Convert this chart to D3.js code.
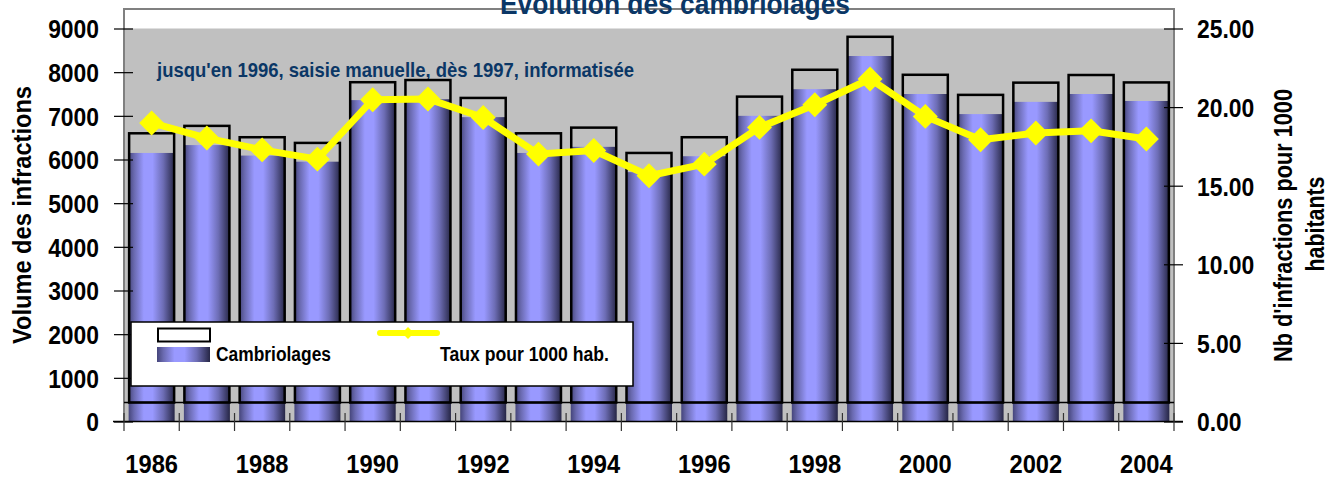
<!DOCTYPE html>
<html>
<head>
<meta charset="utf-8">
<script src="https://cdn.jsdelivr.net/npm/d3@7"></script>
<style>
  html, body { margin: 0; padding: 0; background: #ffffff; }
  svg { display: block; }
  text { font-family: "Liberation Sans", Arial, sans-serif; font-weight: bold; }
</style>
</head>
<body>
<svg id="chart" width="1329" height="478"></svg>
<script>
// ---------- data ----------
const years = [1986, 1987, 1988, 1989, 1990, 1991, 1992, 1993, 1994, 1995,
               1996, 1997, 1998, 1999, 2000, 2001, 2002, 2003, 2004];
const cambriolages = [6150, 6330, 6090, 5950, 7360, 7380, 6970, 6150, 6290, 5710,
                      6075, 7000, 7610, 8370, 7500, 7040, 7320, 7500, 7340];
const cadre = [6600, 6770, 6510, 6380, 7770, 7820, 7410, 6600, 6730, 6150,
               6510, 7440, 8055, 8810, 7940, 7480, 7760, 7935, 7765];
const taux = [18.99, 18.03, 17.28, 16.69, 20.47, 20.52, 19.34, 17.01, 17.24, 15.63,
              16.37, 18.71, 20.15, 21.79, 19.41, 17.92, 18.35, 18.49, 17.97];
const leftTicks = [0, 1000, 2000, 3000, 4000, 5000, 6000, 7000, 8000, 9000];
const rightTicks = [0, 5, 10, 15, 20, 25];
const yearLabels = [1986, 1988, 1990, 1992, 1994, 1996, 1998, 2000, 2002, 2004];
const titleText = "Evolution des cambriolages";
const noteText = "jusqu'en 1996, saisie manuelle, dès 1997, informatisée";
const leftTitle = "Volume des infractions";
const rightTitle = ["Nb d'infractions pour 1000", "habitants"];
const legendBars = "Cambriolages";
const legendLine = "Taux pour 1000 hab.";
const cadreBase = 435;

// ---------- layout ----------
const svg = d3.select("#chart");
const L = 124, R = 1174, T = 28.5, B = 421.5, FRAME_TOP = 9;
const navy = "#0b3766";

const x = d3.scaleBand().domain(years).range([L, R]).paddingInner(0.1676).paddingOuter(0.0838);
const yL = d3.scaleLinear().domain([0, 9000]).range([B, T]);
const yR = d3.scaleLinear().domain([0, 25]).range([B, T]);

// gradient
const defs = svg.append("defs");
const grad = defs.append("linearGradient").attr("id", "barGrad")
  .attr("x1", 0).attr("x2", 1).attr("y1", 0).attr("y2", 0);
[[0, "#45457a"], [0.12, "#6a6ab0"], [0.33, "#9999ff"], [0.52, "#9999ff"], [0.75, "#6d6db5"], [1, "#262645"]]
  .forEach(([o, c]) => grad.append("stop").attr("offset", o).attr("stop-color", c));

// text helper
function label(parent, o) {
  const g = parent.append("g").attr("transform", `translate(${o.x},${o.y}) rotate(${o.rot || 0})`);
  const t = g.append("text").text(o.text)
    .attr("font-size", o.size)
    .attr("text-anchor", o.anchor || "start")
    .attr("fill", o.fill || "#000");
  if (o.len) t.attr("textLength", o.len).attr("lengthAdjust", "spacingAndGlyphs");
  else if (o.sx) t.attr("transform", `scale(${o.sx},1)`);
  return t;
}

// plot background
svg.append("rect").attr("x", L).attr("y", T).attr("width", R - L).attr("height", B - T).attr("fill", "#c0c0c0");
// frame
svg.append("path").attr("d", `M${L},${B} V${FRAME_TOP} H${R} V${B}`)
  .attr("fill", "none").attr("stroke", "#808080").attr("stroke-width", 2);

// note
label(svg, { x: 157, y: 76.5, text: noteText, size: 21, fill: navy, len: 477 });

// purple bars
svg.append("g").selectAll("rect").data(years).join("rect")
  .attr("x", d => x(d)).attr("width", x.bandwidth())
  .attr("y", (d, i) => yL(cambriolages[i]))
  .attr("height", (d, i) => B - yL(cambriolages[i]))
  .attr("fill", "url(#barGrad)");

// outline bars
svg.append("g").selectAll("rect").data(years).join("rect")
  .attr("x", d => x(d) + 0.5).attr("width", x.bandwidth() - 1)
  .attr("y", (d, i) => yL(cadre[i]))
  .attr("height", (d, i) => yL(cadreBase) - yL(cadre[i]))
  .attr("fill", "none").attr("stroke", "#000").attr("stroke-width", 2.5);

// base line of outline series
svg.append("line").attr("x1", L).attr("x2", R).attr("y1", yL(cadreBase)).attr("y2", yL(cadreBase))
  .attr("stroke", "#000").attr("stroke-width", 1.5);

// rate line
const line = d3.line().x((d, i) => x(years[i]) + x.bandwidth() / 2).y(d => yR(d));
svg.append("path").datum(taux).attr("d", line)
  .attr("fill", "none").attr("stroke", "#ffff00").attr("stroke-width", 7).attr("stroke-linejoin", "round");
const diamond = d3.symbol(d3.symbolSquare, 310);
svg.append("g").selectAll("path").data(taux).join("path")
  .attr("d", diamond)
  .attr("transform", (d, i) => `translate(${x(years[i]) + x.bandwidth() / 2},${yR(d)}) rotate(45)`)
  .attr("fill", "#ffff00");

// left axis
const axL = svg.append("g").attr("transform", `translate(${L},0)`)
  .call(d3.axisLeft(yL).tickValues(leftTicks).tickFormat(d3.format("d")).tickSize(10));
axL.select(".domain").remove();
axL.selectAll(".tick line").attr("x1", 9).attr("x2", -10).attr("stroke", "#000").attr("stroke-width", 1.2);
axL.selectAll(".tick text").attr("font-size", 26).attr("fill", "#000").attr("font-family", null)
  .attr("x", -25 / 0.88).attr("dy", "0.36em").attr("transform", "scale(0.88,1)");

// right axis
const axR = svg.append("g").attr("transform", `translate(${R},0)`)
  .call(d3.axisRight(yR).tickValues(rightTicks).tickFormat(d3.format(".2f")).tickSize(10));
axR.select(".domain").remove();
axR.selectAll(".tick line").attr("x1", -10).attr("x2", 9).attr("stroke", "#000").attr("stroke-width", 1.2);
axR.selectAll(".tick text").attr("font-size", 26).attr("fill", "#000").attr("font-family", null)
  .attr("x", 23 / 0.88).attr("dy", "0.36em").attr("transform", "scale(0.88,1)");

// bottom axis
svg.append("line").attr("x1", 113).attr("x2", 1183).attr("y1", B).attr("y2", B)
  .attr("stroke", "#000").attr("stroke-width", 1.5);
const boundaries = years.map(d => x(d) - x.step() * x.paddingInner() / 2).concat([R]);
svg.append("g").selectAll("line").data(boundaries).join("line")
  .attr("x1", d => d).attr("x2", d => d).attr("y1", 413).attr("y2", 431)
  .attr("stroke", "#333").attr("stroke-width", 1.2);
const axB = svg.append("g").attr("transform", `translate(0,${B})`)
  .call(d3.axisBottom(x).tickValues(yearLabels).tickSize(0));
axB.select(".domain").remove();
axB.selectAll(".tick text").attr("font-size", 25.5).attr("fill", "#000").attr("font-family", null)
  .attr("y", 51.5).attr("dy", 0).attr("transform", "scale(0.93,1)");

// axis titles
label(svg, { x: 31, y: 215, rot: -90, text: leftTitle, size: 26, anchor: "middle", len: 258 });
label(svg, { x: 1291.5, y: 225.5, rot: -90, text: rightTitle[0], size: 25, anchor: "middle", len: 273 });
label(svg, { x: 1324, y: 224, rot: -90, text: rightTitle[1], size: 25, anchor: "middle", len: 95 });

// title
label(svg, { x: 675, y: 14, text: titleText, size: 30, anchor: "middle", fill: navy, len: 350 });

// legend
const lg = svg.append("g");
lg.append("rect").attr("x", 131).attr("y", 322).attr("width", 502).attr("height", 64)
  .attr("fill", "#fff").attr("stroke", "#000").attr("stroke-width", 1.5);
lg.append("rect").attr("x", 158).attr("y", 328.5).attr("width", 52).attr("height", 13)
  .attr("fill", "#fff").attr("stroke", "#000").attr("stroke-width", 2);
lg.append("rect").attr("x", 157).attr("y", 347).attr("width", 53).attr("height", 15)
  .attr("fill", "url(#barGrad)");
label(lg, { x: 216, y: 361, text: legendBars, size: 20, len: 115 });
lg.append("line").attr("x1", 380).attr("x2", 437).attr("y1", 333).attr("y2", 333)
  .attr("stroke", "#ffff00").attr("stroke-width", 6).attr("stroke-linecap", "round");
lg.append("path").attr("d", d3.symbol(d3.symbolSquare, 70))
  .attr("transform", "translate(408,333) rotate(45)").attr("fill", "#ffff00");
label(lg, { x: 440, y: 361, text: legendLine, size: 20, len: 169 });
</script>
</body>
</html>
